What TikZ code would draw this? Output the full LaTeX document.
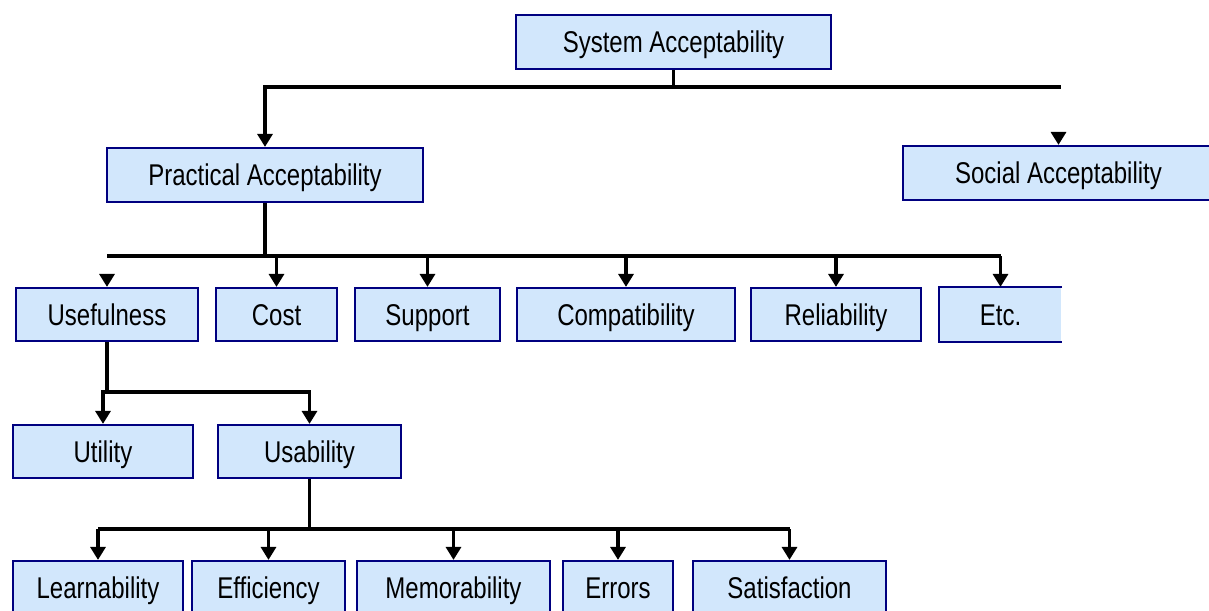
\documentclass[tikz,border=0pt]{standalone}
\usepackage{fontspec}
\newfontfamily\boxfont[FakeStretch=0.8]{Liberation Sans}
\usetikzlibrary{arrows.meta}
\definecolor{boxfill}{RGB}{210,231,252}
\definecolor{boxline}{RGB}{0,0,128}
\begin{document}
\begin{tikzpicture}[x=1pt,y=-1pt,
  box/.style={draw=boxline, line width=2.2pt, fill=boxfill, inner sep=0pt,
    font=\boxfont\fontsize{30}{30}\selectfont, text height=22pt, text depth=1pt},
  conn/.style={line width=3.2pt, line cap=butt},
  feed/.style={conn, -{Triangle[length=13pt,width=15pt]}}]
\useasboundingbox (0,0) rectangle (1209,610);
\clip (0,0) rectangle (1209,610);

% top level
\node[box, minimum width=315pt, minimum height=54pt] (sys) at (673.5,42) {System Acceptability};

% second level
\node[box, minimum width=316pt, minimum height=54pt] (prac) at (265,175) {Practical Acceptability};
\node[box, minimum width=311pt, minimum height=54pt] (soc) at (1058.5,173) {Social Acceptability};

% practical acceptability branches
\node[box, minimum width=182pt, minimum height=53pt] (use) at (107,314.5) {Usefulness};
\node[box, minimum width=121pt, minimum height=53pt] (cost) at (276.5,314.5) {Cost};
\node[box, minimum width=145pt, minimum height=53pt] (supp) at (427.5,314.5) {Support};
\node[box, minimum width=218pt, minimum height=53pt] (compat) at (626,314.5) {Compatibility};
\node[box, minimum width=170pt, minimum height=53pt] (rel) at (836,314.5) {Reliability};
\node[box, draw=none, minimum width=121pt, minimum height=53pt] (etc) at (1000.5,314.5) {Etc.};
\draw[boxline, line width=2.2pt] (etc.north east) -- (etc.north west) -- (etc.south west) -- (etc.south east);

% usefulness branches
\node[box, minimum width=180pt, minimum height=53pt] (util) at (103,451.5) {Utility};
\node[box, minimum width=183pt, minimum height=53pt] (usab) at (309.5,451.5) {Usability};

% usability attributes
\node[box, minimum width=170pt, minimum height=53pt] (learn) at (98,587.5) {Learnability};
\node[box, minimum width=153pt, minimum height=53pt] (eff) at (268.5,587.5) {Efficiency};
\node[box, minimum width=193pt, minimum height=53pt] (mem) at (453.5,587.5) {Memorability};
\node[box, minimum width=110pt, minimum height=53pt] (err) at (618,587.5) {Errors};
\node[box, minimum width=193pt, minimum height=53pt] (sat) at (789.5,587.5) {Satisfaction};

% connectors from the system level
\coordinate (busA) at (sys.south |- 0,87);
\coordinate (busAend) at (1061,87);
\draw[conn] (sys.south) -- (busA);
\draw[feed] (busA) -| (prac.north);
\draw[conn] (busA) -- (busAend);
\coordinate (socstub) at (soc.north |- 0,133);
\draw[feed] (socstub) -- (soc.north);

% connectors from practical acceptability
\coordinate (busB) at (prac.south |- 0,256);
\draw[conn] (prac.south) -- (busB);
\draw[conn] (use.north |- busB) -- (etc.north |- busB);
\foreach \n in {cost,supp,compat,rel,etc}
  \draw[feed] (\n.north |- busB) -- (\n.north);
\coordinate (usestub) at (use.north |- 0,274);
\draw[feed] (usestub) -- (use.north);

% connectors from usefulness
\coordinate (busC) at (use.south |- 0,392);
\draw[conn] (use.south) -- (busC);
\draw[feed] (busC) -| (util.north);
\draw[feed] (busC) -| (usab.north);

% connectors from usability
\coordinate (busD) at (usab.south |- 0,529);
\draw[conn] (usab.south) -- (busD);
\draw[conn] (learn.north |- busD) -- (sat.north |- busD);
\foreach \n in {learn,eff,mem,err,sat}
  \draw[feed] (\n.north |- busD) -- (\n.north);
\end{tikzpicture}
\end{document}
